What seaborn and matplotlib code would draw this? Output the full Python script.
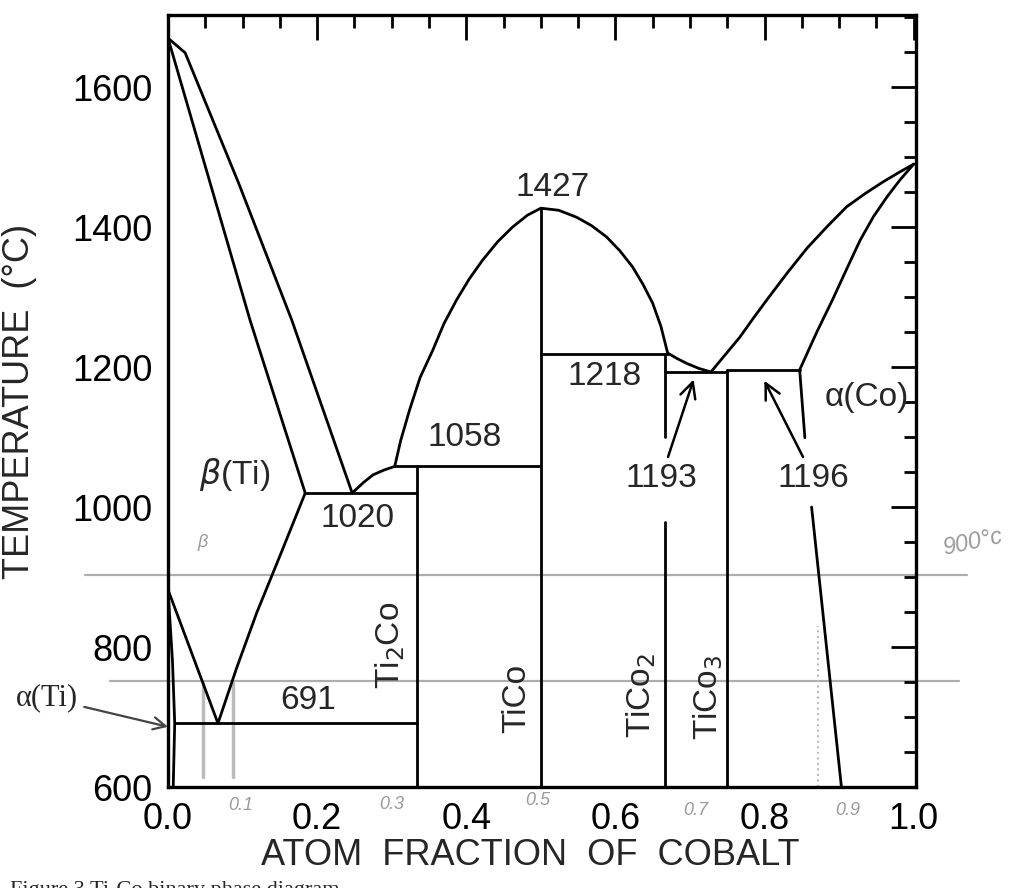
import numpy as np
import pandas as pd
import matplotlib
matplotlib.use("Agg")
import matplotlib.pyplot as plt
import seaborn as sns

# phase boundaries (atom fraction Co, temperature in C)
ti_liquidus_x = [0.0, 0.023, 0.095, 0.166, 0.247]
ti_liquidus_t = [1670, 1649, 1462, 1267, 1020]
ti_solidus_x = [0.0, 0.110, 0.184]
ti_solidus_t = [1670, 1267, 1020]
beta_solvus_x = [0.184, 0.150, 0.119, 0.092, 0.067]
beta_solvus_t = [1020, 930, 849, 770, 691]
beta_transus_x = [0.0, 0.067]
beta_transus_t = [882, 691]
alpha_ti_x = [0.0, 0.006, 0.009, 0.007]
alpha_ti_t = [882, 780, 691, 600]
eutectoid_x = [0.009, 1 / 3]
eutectoid_t = [691, 691]
eut1020_x = [0.184, 1 / 3]
eut1020_t = [1020, 1020]
liq_ti2co_x = [0.247, 0.262, 0.275, 0.290, 0.304]
liq_ti2co_t = [1020, 1035, 1046, 1053, 1058]
per1058_x = [0.304, 0.5]
per1058_t = [1058, 1058]
ti2co_x = [1 / 3, 1 / 3]
ti2co_t = [1058, 600]
tico_liq_x = [0.304, 0.312, 0.324, 0.338, 0.355, 0.370, 0.387, 0.404, 0.422,
              0.442, 0.462, 0.482, 0.5, 0.524, 0.548, 0.568, 0.588, 0.606,
              0.623, 0.637, 0.650, 0.661, 0.670, 0.683, 0.696, 0.712, 0.728]
tico_liq_t = [1058, 1095, 1139, 1185, 1224, 1262, 1296, 1326, 1353,
              1379, 1400, 1417, 1427, 1424, 1414, 1402, 1386, 1366,
              1343, 1318, 1291, 1258, 1220, 1212, 1205, 1198, 1193]
tico_x = [0.5, 0.5]
tico_t = [1427, 600]
per1218_x = [0.5, 0.670]
per1218_t = [1218, 1218]
tico2_top_x = [0.667, 0.667]
tico2_top_t = [1218, 1100]
tico2_bot_x = [0.667, 0.667]
tico2_bot_t = [979, 600]
eut1193_x = [0.667, 0.75]
eut1193_t = [1193, 1193]
tico3_x = [0.75, 0.75]
tico3_t = [1196, 600]
per1196_x = [0.75, 0.847]
per1196_t = [1196, 1196]
co_liq_x = [0.728, 0.767, 0.785, 0.803, 0.830, 0.857, 0.885, 0.910, 0.935,
            0.958, 0.980, 1.0]
co_liq_t = [1193, 1243, 1270, 1296, 1334, 1370, 1402, 1429, 1448,
            1464, 1478, 1490]
co_sol_x = [0.847, 0.870, 0.891, 0.910, 0.928, 0.946, 0.964, 0.982, 1.0]
co_sol_t = [1196, 1250, 1296, 1340, 1381, 1415, 1443, 1468, 1490]
co_solvus_top_x = [0.847, 0.854]
co_solvus_top_t = [1196, 1099]
co_solvus_bot_x = [0.863, 0.903]
co_solvus_bot_t = [1000, 600]

curves = [
    (ti_liquidus_x, ti_liquidus_t), (ti_solidus_x, ti_solidus_t),
    (beta_solvus_x, beta_solvus_t), (beta_transus_x, beta_transus_t),
    (alpha_ti_x, alpha_ti_t), (eutectoid_x, eutectoid_t),
    (eut1020_x, eut1020_t), (liq_ti2co_x, liq_ti2co_t),
    (per1058_x, per1058_t), (ti2co_x, ti2co_t),
    (tico_liq_x, tico_liq_t), (tico_x, tico_t), (per1218_x, per1218_t),
    (tico2_top_x, tico2_top_t), (tico2_bot_x, tico2_bot_t),
    (eut1193_x, eut1193_t), (tico3_x, tico3_t), (per1196_x, per1196_t),
    (co_liq_x, co_liq_t), (co_sol_x, co_sol_t),
    (co_solvus_top_x, co_solvus_top_t), (co_solvus_bot_x, co_solvus_bot_t),
]

# text labels
temp_labels = ["1020", "1058", "1427", "1218", "691"]
temp_label_x = [0.254, 0.398, 0.516, 0.586, 0.188]
temp_label_t = [983, 1099, 1456, 1186, 724]
phase_names = ["Ti$_2$Co", "TiCo", "TiCo$_2$", "TiCo$_3$"]
phase_name_x = [0.298, 0.468, 0.634, 0.724]
phase_name_t = [803, 726, 731, 729]

# pencil marks on the scanned page
pencil_lines_t = [903, 751]
pencil_lines_x0 = [-0.111, -0.078]
pencil_lines_x1 = [1.071, 1.06]
pencil_notes = ["0.1", "0.3", "0.5", "0.7", "0.9", "\u03b2"]
pencil_note_x = [0.098, 0.300, 0.496, 0.708, 0.912, 0.047]
pencil_note_t = [573, 575, 580, 567, 567, 950]

sns.set_theme(style="white")
plt.rcParams["font.family"] = ["Liberation Sans", "DejaVu Sans"]

fig = plt.figure(figsize=(10.21, 8.88), dpi=100)
ax = fig.add_axes([168 / 1021, 1 - 787 / 888, 748 / 1021, 772 / 888])

for x, t in curves:
    sns.lineplot(x=x, y=t, sort=False, estimator=None, color="black",
                 lw=2.0, ax=ax)

# pencil lines
pencil = "#9a9a9a"
for t, x0, x1 in zip(pencil_lines_t, pencil_lines_x0, pencil_lines_x1):
    ax.plot([x0, x1], [t, t], color=pencil, lw=1.6, alpha=0.8, clip_on=False, zorder=0)
ax.plot([0.047, 0.047], [614, 749], color="#bbbbbb", lw=2.5, zorder=0)
ax.plot([0.087, 0.087], [614, 749], color="#bbbbbb", lw=2.5, zorder=0)
ax.plot([0.872, 0.872], [600, 830], color="#bbbbbb", lw=1.5, ls=":", zorder=0)
for s, x, t in zip(pencil_notes, pencil_note_x, pencil_note_t):
    ax.text(x, t, s, color=pencil, fontsize=13, style="italic",
            ha="center", va="center", clip_on=False)
ax.text(1.079, 949, "900\u00b0c", color=pencil, fontsize=17, style="italic",
        ha="center", va="center", rotation=12, clip_on=False)

for s, x, t in zip(temp_labels, temp_label_x, temp_label_t):
    ax.text(x, t, s, fontsize=24, ha="center", va="center")
for s, x, t in zip(phase_names, phase_name_x, phase_name_t):
    ax.text(x, t, s, fontsize=24, ha="center", va="center", rotation=90)

ax.text(0.090, 1047, "$\\beta$(Ti)", fontsize=24, ha="center", va="center")
ax.text(0.937, 1156, "\u03b1(Co)", fontsize=24, ha="center", va="center")

arrow = dict(arrowstyle="->", color="black", lw=1.8, mutation_scale=28)
ax.annotate("1193", xy=(0.706, 1186), xytext=(0.661, 1041), fontsize=24,
            ha="center", va="center", arrowprops=arrow)
ax.annotate("1196", xy=(0.798, 1184), xytext=(0.866, 1041), fontsize=24,
            ha="center", va="center", arrowprops=arrow)
ax.annotate("\u03b1(Ti)", xy=(0.0, 686), xytext=(-0.162, 727),
            fontsize=22, family=["Liberation Serif", "DejaVu Serif"],
            ha="center", va="center", annotation_clip=False,
            arrowprops=dict(arrowstyle="->", color="#444444", lw=1.6,
                            mutation_scale=22, shrinkA=2, shrinkB=0))

ax.set_xlim(0, 1.003)
ax.set_ylim(600, 1703)
ax.set_xticks(np.arange(0, 1.01, 0.2))
ax.set_xticklabels([f"{v:.1f}" for v in np.arange(0, 1.01, 0.2)])
ax.set_xticks(np.arange(0, 1.01, 0.05), minor=True)
ax.set_yticks(np.arange(600, 1601, 200))
ax.set_yticks(np.arange(600, 1701, 50), minor=True)
ax.tick_params(which="both", direction="in", top=True, right=True,
               colors="black", labelsize=26)
ax.tick_params(which="major", length=18, width=2.0, pad=11)
ax.tick_params(which="minor", length=9, width=2.0)
for sp in ax.spines.values():
    sp.set_color("black")
    sp.set_linewidth(2.4)

ax.set_xlabel("ATOM  FRACTION  OF  COBALT", fontsize=26)
ax.set_ylabel("TEMPERATURE  (\u00b0C)", fontsize=26)
ax.xaxis.set_label_coords(0.485, -0.066)
ax.yaxis.set_label_coords(-0.175, 0.5)

fig.text(0.01, 1 - 881 / 888, "Figure 3 Ti-Co binary phase diagram",
         fontsize=16, family=["Liberation Serif", "DejaVu Serif"], va="top")

fig.savefig("out.png", dpi=100, facecolor="white")
